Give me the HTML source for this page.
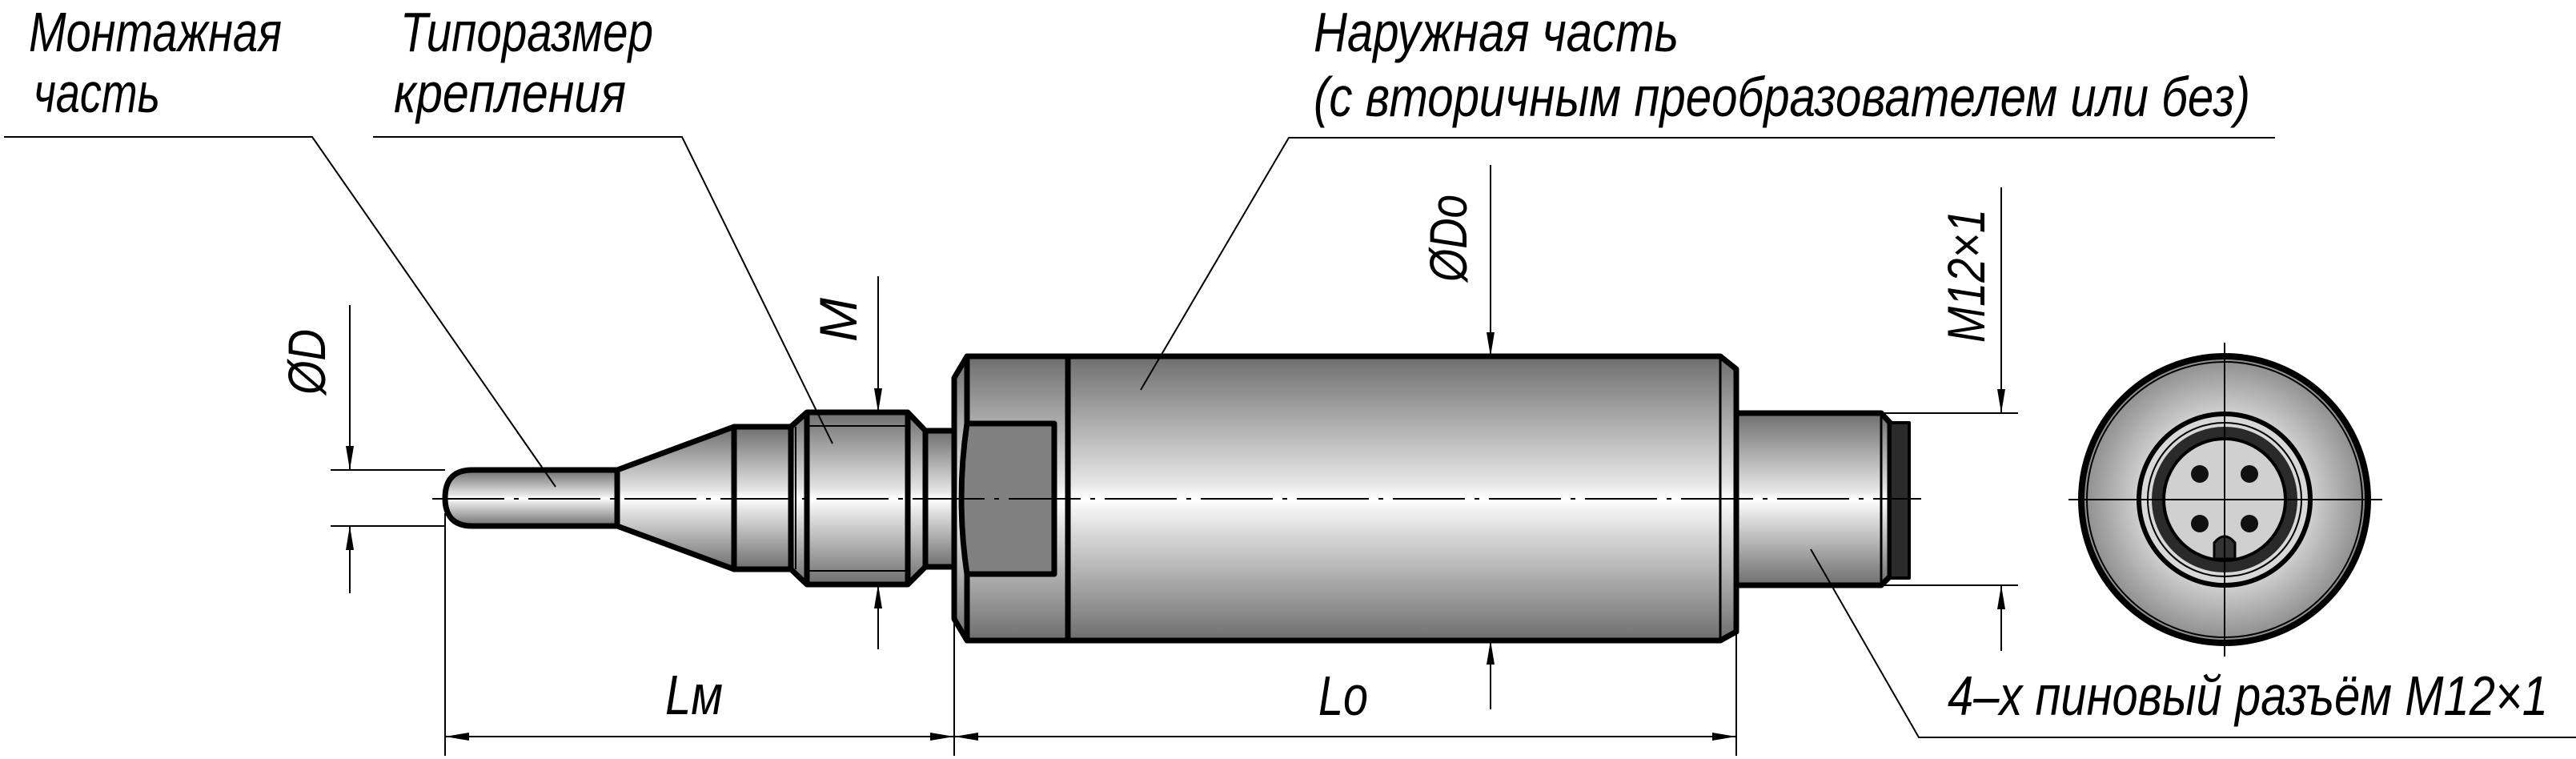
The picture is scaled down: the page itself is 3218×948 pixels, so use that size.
<!DOCTYPE html>
<html><head><meta charset="utf-8"><style>
html,body{margin:0;padding:0;background:#fff;width:3218px;height:948px;overflow:hidden}
svg{display:block}
text{font-family:"Liberation Sans","DejaVu Sans",sans-serif;font-style:italic;fill:#000}
</style></head><body>
<svg width="3218" height="948" viewBox="0 0 3218 948" xmlns="http://www.w3.org/2000/svg">
<defs>
<linearGradient id="g" x1="0" y1="0" x2="0" y2="1">
<stop offset="0" stop-color="#6e6e6e"/><stop offset="0.45" stop-color="#e6e6e6"/><stop offset="0.5" stop-color="#ffffff"/><stop offset="0.6" stop-color="#e0e0e0"/><stop offset="1" stop-color="#6e6e6e"/>
</linearGradient>
<radialGradient id="rg" cx="0.5" cy="0.5" r="0.5">
<stop offset="0.5" stop-color="#e2e2e2"/><stop offset="1" stop-color="#8a8a8a"/>
</radialGradient>
<marker id="a" viewBox="0 0 24 8" refX="24" refY="4" markerWidth="36" markerHeight="10" markerUnits="userSpaceOnUse" orient="auto-start-reverse"><path d="M0,0 L24,4 L0,8 Z" fill="#000"/></marker>
</defs>

<!-- Text -->
<text x="36" y="64" font-size="70" textLength="316" lengthAdjust="spacingAndGlyphs">Монтажная</text>
<text x="42" y="140" font-size="70" textLength="158" lengthAdjust="spacingAndGlyphs">часть</text>
<text x="500" y="64" font-size="70" textLength="316" lengthAdjust="spacingAndGlyphs">Типоразмер</text>
<text x="492" y="140" font-size="70" textLength="290" lengthAdjust="spacingAndGlyphs">крепления</text>
<text x="1641" y="64" font-size="70" textLength="456" lengthAdjust="spacingAndGlyphs">Наружная часть</text>
<text x="1641" y="145" font-size="70" textLength="1170" lengthAdjust="spacingAndGlyphs">(с вторичным преобразователем или без)</text>
<text x="2433" y="893" font-size="70" textLength="750" lengthAdjust="spacingAndGlyphs">4–х пиновый разъём M12×1</text>
<text x="831" y="892" font-size="70" textLength="72" lengthAdjust="spacingAndGlyphs">Lм</text>
<text x="1647" y="893" font-size="70" textLength="62" lengthAdjust="spacingAndGlyphs">Lo</text>
<text transform="translate(406,493) rotate(-90)" font-size="66" textLength="82" lengthAdjust="spacingAndGlyphs">ØD</text>
<text transform="translate(1070,427) rotate(-90)" font-size="66" textLength="55" lengthAdjust="spacingAndGlyphs">M</text>
<text transform="translate(1832,352) rotate(-90)" font-size="66" textLength="109" lengthAdjust="spacingAndGlyphs">ØDo</text>
<text transform="translate(2479,428) rotate(-90)" font-size="66" textLength="167" lengthAdjust="spacingAndGlyphs">M12×1</text>

<!-- drawing parts -->
<g stroke="#000" stroke-width="7" stroke-linejoin="round">
<path d="M771,587 L590,587 Q556,587 556,622 Q556,657 590,657 L771,657 Z" fill="url(#g)"/>
<path d="M771,587 L917,533 L917,711 L771,657 Z" fill="url(#g)"/>
<rect x="917" y="533" width="71" height="178" fill="url(#g)"/>
<path d="M988,533 L1008,515 L1134,515 L1156,538 L1156,708 L1134,730 L1008,730 L988,711 Z" fill="url(#g)"/>
<line x1="1008" y1="515" x2="1008" y2="730"/>
<line x1="1134" y1="515" x2="1134" y2="730"/>
<rect x="1156" y="538" width="36" height="170" fill="url(#g)"/>
<path d="M1192,472 L1208,445 L2149,445 L2169,461 L2169,789 L2149,800 L1208,800 L1192,773 Z" fill="url(#g)"/>
<line x1="1208" y1="445" x2="1208" y2="800"/>
<line x1="1334" y1="445" x2="1334" y2="800"/>
<line x1="2149" y1="445" x2="2149" y2="800" stroke-width="3"/>
<path d="M1208,529 L1317,529 L1317,717 L1208,717 Q1194,623 1208,529 Z" fill="#808080"/>
<path d="M2169,516 L2350,516 L2361,528 L2361,720 L2350,731 L2169,731 Z" fill="url(#g)"/>
<rect x="2361" y="528" width="24" height="194" fill="#2a2a2a" stroke-width="4"/>
<line x1="2350" y1="516" x2="2350" y2="731" stroke-width="3"/>
</g>
<g stroke="#000" stroke-width="2">
<line x1="994" y1="533" x2="994" y2="711"/>
<line x1="1008" y1="532" x2="1134" y2="532"/>
<line x1="1008" y1="713" x2="1134" y2="713"/>
</g>

<!-- centerline -->
<line x1="540" y1="623" x2="2400" y2="623" stroke="#000" stroke-width="2" stroke-dasharray="90,12,6,12"/>

<!-- leaders (on top) -->
<g stroke="#000" fill="none" stroke-width="2">
<polyline points="5,171 390,171 694,608"/>
<polyline points="466,171 852,171 1040,554"/>
<polyline points="2842,172 1610,172 1425,487"/>
<polyline points="2262,686 2397,921 3218,921"/>
</g>

<!-- end view -->
<g stroke="#000">
<circle cx="2779" cy="624" r="179" fill="url(#rg)" stroke-width="8"/>
<circle cx="2779" cy="624" r="172" fill="none" stroke-width="2"/>
<circle cx="2779" cy="624" r="107" fill="#d8d8d8" stroke-width="6"/>
<circle cx="2779" cy="624" r="96" fill="none" stroke-width="2"/>
<circle cx="2779" cy="624" r="84" fill="#d0d0d0" stroke="#2a2a2a" stroke-width="14"/>
<circle cx="2779" cy="624" r="76" fill="none" stroke-width="4"/>
<circle cx="2748" cy="592" r="11" fill="#111" stroke="none"/>
<circle cx="2810" cy="592" r="11" fill="#111" stroke="none"/>
<circle cx="2748" cy="654" r="11" fill="#111" stroke="none"/>
<circle cx="2810" cy="654" r="11" fill="#111" stroke="none"/>
<path d="M2766,698 L2766,678 Q2779,662 2792,678 L2792,698 Z" fill="#333" stroke-width="3"/>
<line x1="2779" y1="428" x2="2779" y2="820" stroke-width="2"/>
<line x1="2584" y1="624" x2="2976" y2="624" stroke-width="2"/>
</g>

<!-- dimensions -->
<g stroke="#000" stroke-width="2" fill="none">
<line x1="413" y1="587" x2="556" y2="587"/>
<line x1="413" y1="657" x2="556" y2="657"/>
<line x1="437" y1="381" x2="437" y2="587" marker-end="url(#a)"/>
<line x1="437" y1="741" x2="437" y2="657" marker-end="url(#a)"/>
<line x1="1097" y1="345" x2="1097" y2="515" marker-end="url(#a)"/>
<line x1="1097" y1="811" x2="1097" y2="730" marker-end="url(#a)"/>
<line x1="1862" y1="206" x2="1862" y2="445" marker-end="url(#a)"/>
<line x1="1862" y1="886" x2="1862" y2="800" marker-end="url(#a)"/>
<line x1="2350" y1="516" x2="2521" y2="516"/>
<line x1="2350" y1="731" x2="2521" y2="731"/>
<line x1="2500" y1="234" x2="2500" y2="516" marker-end="url(#a)"/>
<line x1="2500" y1="813" x2="2500" y2="731" marker-end="url(#a)"/>
<line x1="556" y1="641" x2="556" y2="944"/>
<line x1="1192" y1="773" x2="1192" y2="944"/>
<line x1="2169" y1="789" x2="2169" y2="944"/>
<line x1="556" y1="920" x2="1192" y2="920" marker-start="url(#a)" marker-end="url(#a)"/>
<line x1="1192" y1="920" x2="2169" y2="920" marker-start="url(#a)" marker-end="url(#a)"/>
</g>
</svg>
</body></html>
